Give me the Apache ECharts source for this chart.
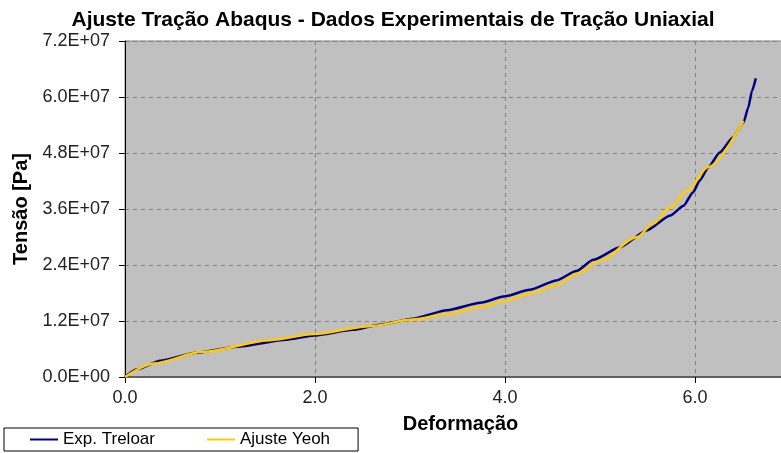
<!DOCTYPE html>
<html>
<head>
<meta charset="utf-8">
<script src="https://cdn.jsdelivr.net/npm/echarts@6/dist/echarts.min.js"></script>
<style>
html,body{margin:0;padding:0;background:#fff;overflow:hidden;}
#chart{width:790px;height:453px;}
</style>
</head>
<body>
<div id="chart"></div>
<script>
// Uniaxial tension: experimental (Treloar) data and Yeoh model fit, stress in Pa
const expStrain = [0, 0.12, 0.37, 0.75, 1.18, 1.70, 1.99, 2.40, 2.68, 3.03, 3.39, 3.74, 4.00, 4.26, 4.54, 4.75, 4.93, 5.21, 5.49, 5.74, 5.88, 5.98, 6.05, 6.14, 6.26, 6.40, 6.51, 6.56, 6.60, 6.64];
const expStress = [0, 1.6e6, 3.5e6, 5.2e6, 6.5e6, 8.0e6, 8.9e6, 10.1e6, 11.2e6, 12.5e6, 14.3e6, 15.9e6, 17.3e6, 18.7e6, 20.7e6, 22.7e6, 25.1e6, 27.8e6, 31.4e6, 34.6e6, 36.7e6, 39.6e6, 42.1e6, 44.9e6, 48.1e6, 51.3e6, 54.5e6, 57.7e6, 61.3e6, 64.0e6];

const fitStrain = [0, 0.30, 0.82, 1.53, 1.99, 2.58, 3.03, 3.39, 3.74, 4.00, 4.26, 4.54, 4.75, 5.00, 5.39, 5.56, 5.74, 5.91, 6.14, 6.51];
const fitStress = [0, 2.9e6, 5.4e6, 7.9e6, 9.2e6, 10.9e6, 12.3e6, 13.5e6, 15.0e6, 16.3e6, 17.9e6, 19.7e6, 22.0e6, 24.9e6, 30.0e6, 32.9e6, 36.3e6, 39.8e6, 45.0e6, 54.9e6];

const seriesNames = ['Exp. Treloar', 'Ajuste Yeoh'];
const yTickMax = 7.2e7, yTickStep = 1.2e7;
const xTickMax = 7, xTickStep = 2;

const pairs = (xs, ys) => xs.map((x, i) => [x, ys[i]]);

function sci(v) {
  if (v === 0) return '0.0E+00';
  const e = Math.floor(Math.log10(Math.abs(v)) + 1e-9);
  const m = v / Math.pow(10, e);
  const es = (e < 0 ? '-' : '+') + String(Math.abs(e)).padStart(2, '0');
  return m.toFixed(1) + 'E' + es;
}

const chart = echarts.init(document.getElementById('chart'), null, {renderer: 'canvas'});
const font = '"Liberation Sans", Arial, sans-serif';

chart.setOption({
  animation: false,
  backgroundColor: '#ffffff',
  title: {
    text: 'Ajuste Tração Abaqus - Dados Experimentais de Tração Uniaxial',
    left: 388, top: 5, textAlign: 'center',
    textStyle: {fontFamily: font, fontSize: 21, fontWeight: 'bold', color: '#000'}
  },
  legend: {
    left: 4, top: 428,
    padding: [3, 28, 3, 26],
    itemGap: 52, itemWidth: 28, itemHeight: 2,
    borderColor: '#000', borderWidth: 1,
    icon: 'rect',
    textStyle: {fontFamily: font, fontSize: 17, color: '#000'},
    data: seriesNames
  },
  grid: {
    left: 125, top: 41, right: 0, bottom: 76,
    show: true, backgroundColor: '#c0c0c0', borderColor: '#808080', borderWidth: 1
  },
  xAxis: {
    type: 'value', min: 0, max: xTickMax, interval: xTickStep,
    name: 'Deformação', nameLocation: 'middle', nameGap: 37,
    nameTextStyle: {fontFamily: font, fontSize: 20, fontWeight: 'bold', color: '#000', padding: [0, 0, 0, 6]},
    axisLine: {show: true, onZero: false, lineStyle: {color: '#606060', width: 2}},
    axisTick: {show: true, inside: false, length: 6, lineStyle: {color: '#000'}},
    axisLabel: {margin: 12, showMaxLabel: false, fontFamily: font, fontSize: 18, color: '#222', formatter: v => v.toFixed(1)},
    splitLine: {show: true, lineStyle: {color: '#808080', type: [4, 4], width: 1}}
  },
  yAxis: {
    type: 'value', min: 0, max: yTickMax, interval: yTickStep,
    name: 'Tensão [Pa]', nameLocation: 'middle', nameGap: 84, nameRotate: 90,
    nameTextStyle: {fontFamily: font, fontSize: 20, fontWeight: 'bold', color: '#000'},
    axisLine: {show: true, onZero: false, lineStyle: {color: '#000', width: 1}},
    axisTick: {show: true, inside: false, length: 6, lineStyle: {color: '#000'}},
    axisLabel: {margin: 15, fontFamily: font, fontSize: 18, color: '#222', formatter: sci},
    splitLine: {show: true, lineStyle: {color: '#808080', type: [4, 4], width: 1}}
  },
  series: [
    {
      name: seriesNames[0], type: 'line', data: pairs(expStrain, expStress),
      showSymbol: false, smooth: 0.2, smoothMonotone: 'x',
      lineStyle: {color: '#000080', width: 2.5}, itemStyle: {color: '#000080'}
    },
    {
      name: seriesNames[1], type: 'line', data: pairs(fitStrain, fitStress),
      showSymbol: false, smooth: 0.3, smoothMonotone: 'x',
      lineStyle: {color: '#ffcc00', width: 2.5}, itemStyle: {color: '#ffcc00'}
    }
  ]
});
</script>
</body>
</html>
